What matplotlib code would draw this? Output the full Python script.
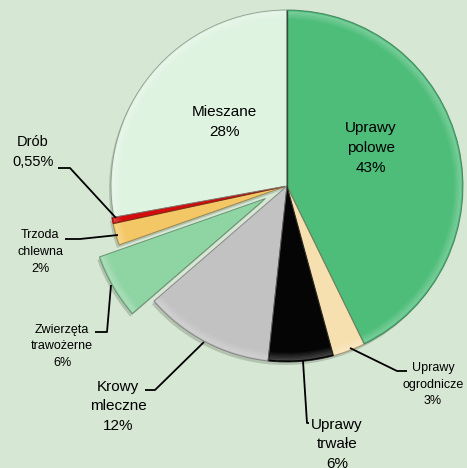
import matplotlib
matplotlib.use("Agg")
import matplotlib.pyplot as plt
from matplotlib.patches import Wedge
import numpy as np

plt.rcParams['font.family'] = ['Liberation Sans', 'DejaVu Sans']

labels = ["Uprawy\npolowe\n43%", "Uprawy\nogrodnicze\n3%", "Uprawy\ntrwałe\n6%",
          "Krowy\nmleczne\n12%", "Zwierzęta\ntrawożerne\n6%", "Trzoda\nchlewna\n2%",
          "Drób\n0,55%", "Mieszane\n28%"]
values = [43, 3, 6, 12, 6, 2, 0.55, 28]
colors = ["#4dbd79", "#f7e0b0", "#050505", "#c2c2c2", "#8fd4a3", "#f3c765",
          "#d40c0c", "#dff3e1"]
explode = [0, 0, 0, 0, 25, 2, 2, 0]   # pixels

W, H = 467, 468
bg = "#d6e7d3"
fig = plt.figure(figsize=(W / 100, H / 100), dpi=100, facecolor=bg)
ax = fig.add_axes([0, 0, 1, 1])
ax.set_facecolor(bg)

cx, cy, R = 287, H - 186, 176

wedges, _ = ax.pie(values, colors=colors, explode=explode, startangle=90,
                   counterclock=False, center=(cx, cy), radius=R,
                   wedgeprops=dict(edgecolor="none", linewidth=0),
                   normalize=True)

# drop shadow + soft bevel
for w, c in zip(wedges, colors):
    sh = Wedge((w.center[0] - 2, w.center[1] - 3), w.r, w.theta1, w.theta2,
               facecolor="#6f7f6c", edgecolor="none", alpha=0.35, zorder=w.zorder - 0.5)
    ax.add_patch(sh)
    rgb = np.array(matplotlib.colors.to_rgb(c))
    light = 1 - (1 - rgb) * 0.45
    dark = rgb * 0.55
    for k in range(6):
        ring = Wedge(w.center, w.r - 1.5 - k * 1.3, w.theta1 + 0.3, w.theta2 - 0.3,
                     width=1.3, facecolor=light, edgecolor="none",
                     alpha=0.45 * (1 - k / 6), zorder=w.zorder + 0.1)
        ax.add_patch(ring)
    rim = Wedge(w.center, w.r, w.theta1, w.theta2, facecolor="none",
                edgecolor=dark, linewidth=0.7, alpha=0.7, zorder=w.zorder + 0.2)
    ax.add_patch(rim)

# dark seam between Mieszane and Uprawy polowe
ax.plot([cx, cx], [cy, cy + R - 1], color="#2f3a30", lw=1.0, alpha=0.8, zorder=3)

def py(y):
    return H - y

# inside labels
ax.text(224, py(122), labels[7], ha="center", va="center", fontsize=11, linespacing=1.55)
ax.text(371, py(148), labels[0], ha="center", va="center", fontsize=11, linespacing=1.55)

# outside labels with leader lines (pixel coords)
outside = [
    (labels[6], (33, 152), 10.5, [(58, 168), (70, 168), (116, 218)]),
    (labels[5], (40, 252), 9, [(65, 239), (80, 239), (118, 235)]),
    (labels[4], (62, 346), 9, [(95, 332), (107, 332), (111, 285)]),
    (labels[3], (118, 406), 11, [(145, 390), (155, 390), (204, 342)]),
    (labels[2], (337, 444), 11, [(309, 423), (307, 423), (303, 361)]),
    (labels[1], (433, 385), 9, [(407, 371), (397, 371), (350, 348)]),
]
for txt, (tx, ty), fs, pts in outside:
    ax.text(tx, py(ty), txt, ha="center", va="center", fontsize=fs, linespacing=1.5)
    xs = [p[0] for p in pts]
    ys = [py(p[1]) for p in pts]
    ax.plot(xs, ys, color="black", lw=1.3, zorder=5, solid_capstyle="butt")

ax.set_xlim(0, W)
ax.set_ylim(0, H)
ax.set_aspect("equal")
ax.axis("off")

fig.savefig("out.png", dpi=100, facecolor=bg)
